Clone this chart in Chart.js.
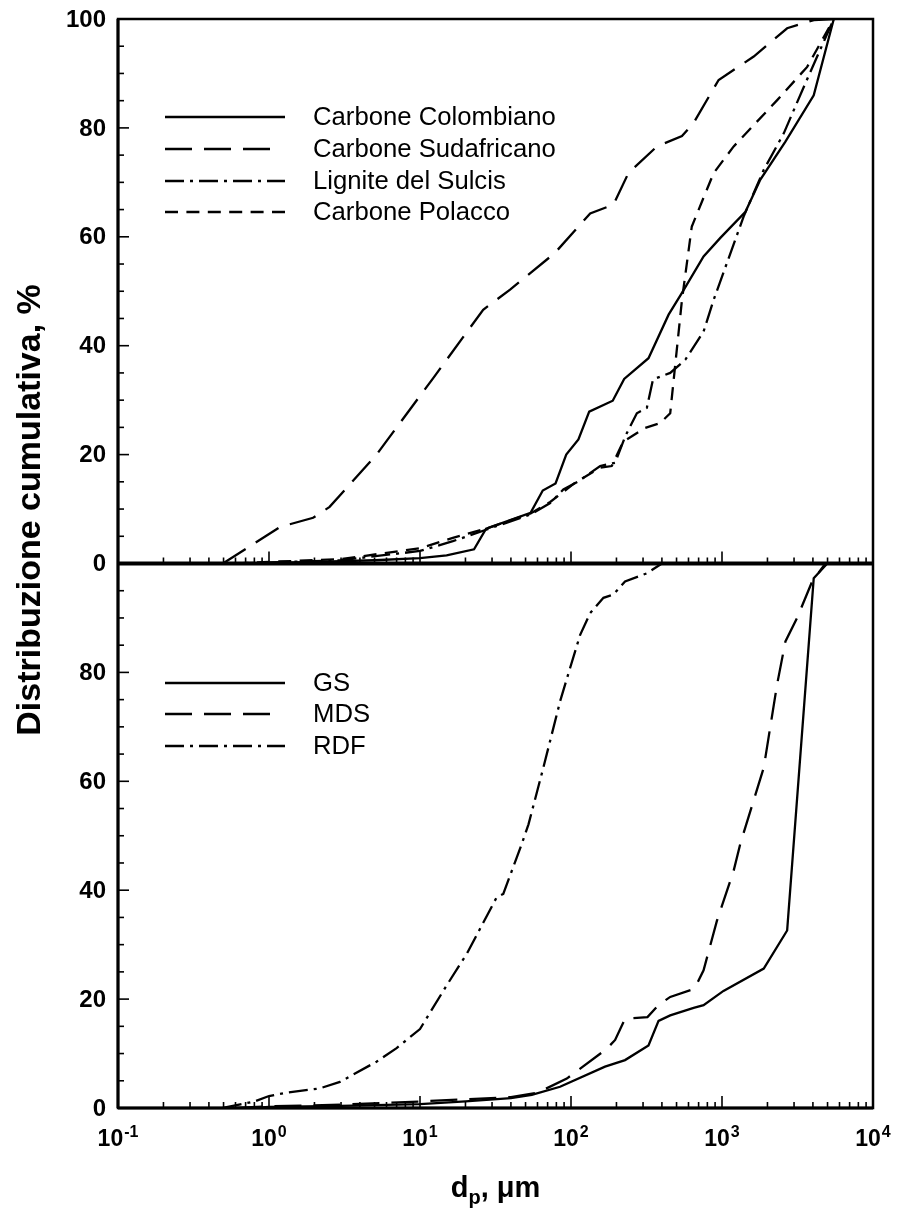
<!DOCTYPE html>
<html>
<head>
<meta charset="utf-8">
<script src="https://cdn.jsdelivr.net/npm/chart.js@4.4.1/dist/chart.umd.min.js"></script>
<style>
  html, body { margin: 0; padding: 0; background: #fff; }
  #wrap { position: relative; width: 897px; height: 1214px; }
</style>
</head>
<body>
<div id="wrap"><canvas id="psd" width="897" height="1214"></canvas></div>
<script>
// top panel: carboni
var colombX = [0.8, 1, 2, 5, 10, 15, 22.8, 27.4, 54, 65, 79, 93, 112, 132, 189, 225, 326, 443, 543, 755, 975, 1430, 1795, 2630, 4050, 5500];
var colombY = [0, 0.1, 0.3, 0.6, 1.0, 1.5, 2.6, 6.4, 9.3, 13.4, 14.7, 20, 22.8, 27.9, 29.9, 33.9, 37.7, 45.7, 49.7, 56.4, 59.8, 64.6, 70.5, 77.5, 86, 100];
var sudX = [0.495, 1.18, 1.96, 2.52, 5.15, 12.2, 26.2, 39.5, 78, 134, 191, 240, 371, 543, 648, 950, 1622, 2700, 4050, 5500];
var sudY = [0, 6.7, 8.4, 10.4, 20, 34, 46.6, 50.3, 57, 64.3, 65.9, 71.7, 76.6, 78.5, 80.9, 88.8, 93.1, 98.3, 99.8, 100];
var lignX = [0.6, 1, 3, 10, 16.5, 27.4, 54, 72.8, 89, 112, 156, 196, 229, 273, 318, 349, 454, 571, 755, 880, 1390, 1890, 2565, 3565, 5500];
var lignY = [0, 0.2, 0.6, 2.3, 4.1, 6.2, 9.0, 11.1, 13.6, 15.1, 17.9, 18.5, 23.4, 27.6, 28.6, 33.8, 35, 37.4, 42.6, 48.4, 63.7, 72.3, 79, 88.2, 100];
var polX = [0.6, 1, 3, 10, 16.5, 27.4, 54, 72.8, 106, 156, 186, 222, 310, 390, 454, 543, 631, 880, 1195, 2320, 3665, 5500];
var polY = [0, 0.3, 0.8, 2.8, 4.7, 6.4, 9.2, 11.3, 14.8, 17.6, 17.9, 22.4, 24.9, 25.8, 27.6, 48.4, 61.9, 71.7, 76.6, 85.1, 91.2, 100];

// bottom panel: GS, MDS, RDF
var gsX = [0.8, 1, 3, 10, 20, 40, 55, 84.6, 168, 228, 326, 380, 454, 649, 755, 1023, 1890, 2700, 4050, 4980];
var gsY = [0, 0.2, 0.4, 0.7, 1.2, 1.8, 2.4, 3.9, 7.6, 8.8, 11.5, 16.0, 17.0, 18.4, 18.9, 21.5, 25.6, 32.6, 97.3, 100];
var mdsX = [0.6, 1, 3, 10, 20, 40, 60, 93.8, 112, 173, 196, 228, 321, 380, 454, 658, 755, 926, 1195, 1321, 1890, 2317, 2631, 3142, 3953, 4840];
var mdsY = [0, 0.3, 0.6, 1.2, 1.6, 2.0, 2.8, 5.4, 7.0, 10.9, 12.5, 16.4, 16.7, 18.9, 20.4, 21.9, 25.3, 34.4, 43.6, 48.5, 62.5, 77.8, 85.7, 90, 96.7, 100];
var rdfX = [0.495, 0.8, 1.0, 1.3, 2.17, 2.95, 5.15, 7, 10, 15, 20.4, 32.2, 35.6, 43.7, 47.2, 52.3, 65.6, 84.7, 98.6, 115, 134, 164, 191, 228, 318, 400];
var rdfY = [0, 1.2, 2.2, 2.8, 3.6, 4.8, 8.5, 11, 14.5, 22.5, 28.3, 38.7, 39.3, 46.0, 48.5, 52.1, 62.5, 74.7, 80.8, 86.9, 90.9, 93.7, 94.3, 96.7, 98.2, 100];

var topLabels = ['Carbone Colombiano', 'Carbone Sudafricano', 'Lignite del Sulcis', 'Carbone Polacco'];
var botLabels = ['GS', 'MDS', 'RDF'];
var topTicks = [0, 20, 40, 60, 80, 100];
var botTicks = [0, 20, 40, 60, 80];
var xExponents = [-1, 0, 1, 2, 3, 4];
var yTitle = 'Distribuzione cumulativa, %';

var SOLID = [], LONG = [27, 12], SHORT = [13, 8.4], DASHDOT = [19, 6, 3, 6];
var FONT = '"Liberation Sans", Arial, sans-serif';

function pts(xs, ys) {
  return xs.map(function (x, i) { return {x: x, y: ys[i]}; });
}

function series(label, xs, ys, dash, axis) {
  return {
    label: label,
    data: pts(xs, ys),
    yAxisID: axis,
    borderColor: '#000',
    borderWidth: 2.3,
    borderDash: dash,
    pointRadius: 0,
    tension: 0,
    fill: false
  };
}

var datasets = [
  series(topLabels[0], colombX, colombY, SOLID, 'yTop'),
  series(topLabels[1], sudX, sudY, LONG, 'yTop'),
  series(topLabels[2], lignX, lignY, DASHDOT, 'yTop'),
  series(topLabels[3], polX, polY, SHORT, 'yTop'),
  series(botLabels[0], gsX, gsY, SOLID, 'yBot'),
  series(botLabels[1], mdsX, mdsY, LONG, 'yBot'),
  series(botLabels[2], rdfX, rdfY, DASHDOT, 'yBot')
];

function line(ctx, x1, y1, x2, y2) {
  ctx.beginPath();
  ctx.moveTo(x1, y1);
  ctx.lineTo(x2, y2);
  ctx.stroke();
}

// frame, inward ticks, labels and legends
var decor = {
  id: 'decor',
  afterDraw: function (chart) {
    var ctx = chart.ctx, a = chart.chartArea;
    var sx = chart.scales.x, yT = chart.scales.yTop, yB = chart.scales.yBot;
    ctx.save();
    ctx.strokeStyle = '#000';
    ctx.fillStyle = '#000';
    ctx.lineCap = 'butt';

    ctx.lineWidth = 2.5;
    ctx.strokeRect(a.left, a.top, a.right - a.left, a.bottom - a.top);
    ctx.lineWidth = 4;
    line(ctx, a.left, yT.bottom, a.right, yT.bottom);
    ctx.lineWidth = 3;
    line(ctx, a.left, a.bottom, a.right, a.bottom);
    line(ctx, a.left, a.top, a.left, a.bottom);

    // y ticks, every 5 %
    ctx.lineWidth = 1.6;
    [yT, yB].forEach(function (s) {
      for (var v = 0; v <= 100; v += 5) {
        var py = s.getPixelForValue(v);
        line(ctx, a.left, py, a.left + (v % 20 === 0 ? 11 : 6), py);
      }
    });
    // x ticks (log), pointing up from each panel bottom
    [yT.bottom, yB.bottom].forEach(function (base) {
      for (var e = -1; e <= 3; e++) {
        for (var m = 1; m <= 9; m++) {
          var px = sx.getPixelForValue(m * Math.pow(10, e));
          line(ctx, px, base, px, base - (m === 1 ? 12 : 6));
        }
      }
    });

    // y tick labels
    ctx.font = 'bold 24px ' + FONT;
    ctx.textAlign = 'right';
    ctx.textBaseline = 'middle';
    topTicks.forEach(function (v) { ctx.fillText(String(v), a.left - 12, yT.getPixelForValue(v) + 1); });
    botTicks.forEach(function (v) { ctx.fillText(String(v), a.left - 12, yB.getPixelForValue(v) + 1); });

    // x tick labels 10^n
    ctx.textBaseline = 'alphabetic';
    ctx.textAlign = 'left';
    xExponents.forEach(function (n) {
      var px = sx.getPixelForValue(Math.pow(10, n));
      ctx.font = 'bold 23px ' + FONT;
      var w1 = ctx.measureText('10').width;
      ctx.font = 'bold 16px ' + FONT;
      var w2 = ctx.measureText(String(n)).width;
      var x0 = px - (w1 + w2 + 1) / 2;
      ctx.font = 'bold 23px ' + FONT;
      ctx.fillText('10', x0, a.bottom + 38);
      ctx.font = 'bold 16px ' + FONT;
      ctx.fillText(String(n), x0 + w1 + 1, a.bottom + 29);
    });

    // x title: d_p, µm
    var cx = (a.left + a.right) / 2, by = a.bottom + 89;
    ctx.font = 'bold 29px ' + FONT;
    var wd = ctx.measureText('d').width;
    var wr = ctx.measureText(', \u03bcm').width;
    ctx.font = 'bold 20px ' + FONT;
    var wp = ctx.measureText('p').width;
    var xs = cx - (wd + wp + wr) / 2;
    ctx.font = 'bold 29px ' + FONT;
    ctx.fillText('d', xs, by);
    ctx.fillText(', \u03bcm', xs + wd + wp, by);
    ctx.font = 'bold 20px ' + FONT;
    ctx.fillText('p', xs + wd, by + 7);

    // y title
    ctx.save();
    ctx.translate(31, 510);
    ctx.rotate(-Math.PI / 2);
    ctx.font = 'bold 34px ' + FONT;
    ctx.textAlign = 'center';
    ctx.textBaseline = 'middle';
    ctx.fillText(yTitle, 0, 0);
    ctx.restore();

    // legends
    ctx.font = '25.7px ' + FONT;
    ctx.textBaseline = 'middle';
    ctx.textAlign = 'left';
    ctx.lineWidth = 2.3;
    function legend(items, rows) {
      items.forEach(function (ds, i) {
        ctx.setLineDash(ds.borderDash);
        line(ctx, 165, rows[i], ds.borderDash === LONG ? 273 : 285, rows[i]);
        ctx.setLineDash([]);
        ctx.fillText(ds.label, 313, rows[i] + 1);
      });
    }
    legend(datasets.slice(0, 4), [117, 149, 181, 212]);
    legend(datasets.slice(4), [683, 714, 746]);
    ctx.restore();
  }
};

new Chart(document.getElementById('psd').getContext('2d'), {
  type: 'line',
  data: {datasets: datasets},
  options: {
    responsive: false,
    animation: false,
    layout: {padding: {left: 118, top: 19, right: 24, bottom: 106}},
    plugins: {legend: {display: false}, title: {display: false}, tooltip: {enabled: false}},
    scales: {
      x: {type: 'logarithmic', min: 0.1, max: 10000, display: false},
      yBot: {type: 'linear', min: 0, max: 100, display: false, position: 'left', stack: 'panels', stackWeight: 1},
      yTop: {type: 'linear', min: 0, max: 100, display: false, position: 'left', stack: 'panels', stackWeight: 1}
    }
  },
  plugins: [decor]
});
</script>
</body>
</html>
